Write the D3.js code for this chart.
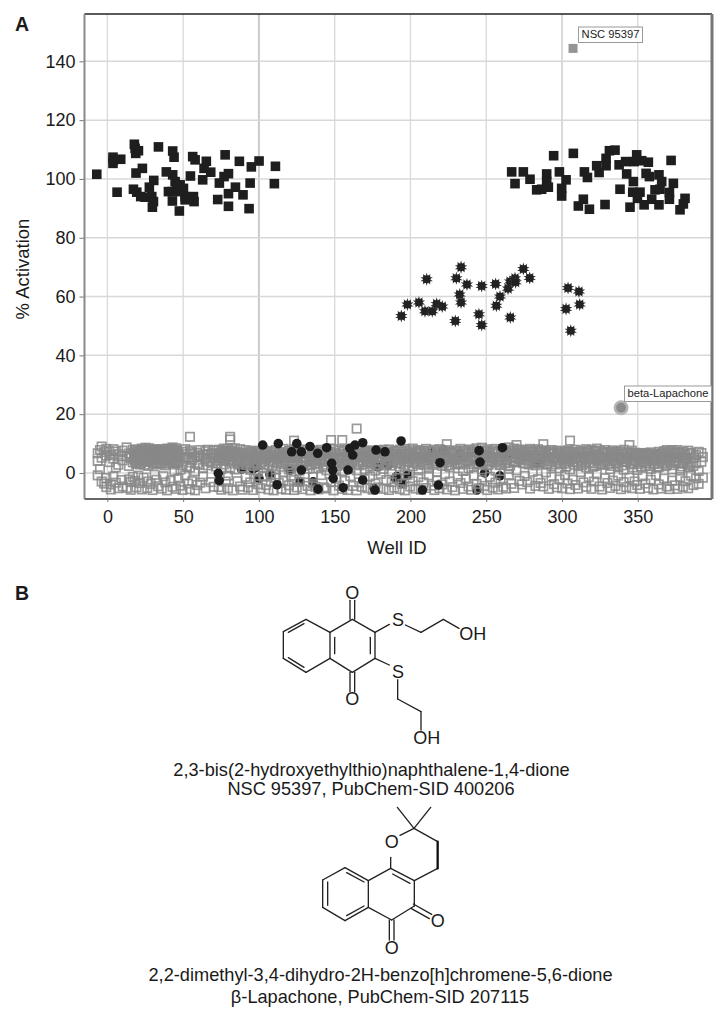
<!DOCTYPE html>
<html lang="en">
<head>
<meta charset="UTF-8">
<title>Well activation screen</title>
<script src="https://d3js.org/d3.v7.min.js"></script>
<style>
  body { margin: 0; background: #fff; }
  text { font-family: "Liberation Sans", Arial, sans-serif; fill: #1a1a1a; }
</style>
</head>
<body>
<script>
// tick labels
const xTicks = [0, 50, 100, 150, 200, 250, 300, 350];
const yTicks = [0, 20, 40, 60, 80, 100, 120, 140];

// high controls, filled squares [well, % activation]
const highControls = [
  [-7,101.6],[3.7,107.4],[3.7,105.3],[4,106.5],[8.8,106.7],[6.4,95.5],[17.8,111.8],[18.3,110.4],[20.5,109.6],[18.7,108.7],
  [18.9,102],[23.1,103.6],[17.2,96.5],[19.4,95.5],[22,94],[24.9,93.8],[29.3,94],[30.4,92.3],[29.7,90.4],[27.7,97.2],
  [30.6,99.5],[33.7,110.9],[43.1,109.5],[44,107.4],[56.3,107.6],[57.9,106.5],[65.3,106],[63.8,103.6],[68.2,102.3],[54.8,101],
  [62.9,99.7],[38.9,102.4],[43.1,101.4],[44.7,99.1],[48,98],[50.2,96.8],[40.3,95.7],[42.9,95.7],[42.9,92.5],[47.5,89.1],
  [51.3,94],[51.3,92.9],[56.8,94],[57.2,92.3],[53.5,93.4],[49.1,95.7],[45.8,97.4],[77.7,108.2],[87.1,106],[95,104.1],
  [100.1,106.1],[110.9,104.3],[110.2,98.4],[94.2,98.6],[79.9,101.8],[77,100.8],[73.9,98.6],[84.5,97.2],[79.9,95],[89.5,94.6],
  [72.8,93],[79.9,90.7],[93.5,89.9],
  [266.8,102.4],[274.5,102.4],[269,98.4],[278.9,99.9],[283.3,96.3],[286.6,96.5],[289.9,101.7],[289.9,99.1],[291,97.2],[294.5,107.9],
  [298.3,102.4],[302.7,99.7],[299.8,96.8],[299.8,94.2],[307.5,108.7],[314.8,102.4],[316.8,100.5],[314.1,93.1],[310.8,90.8],[318.1,89.7],
  [328.4,91.3],[322.9,104.5],[324.5,102.2],[329.1,104.5],[329.1,107],[331.3,109.6],[335,109.8],[337.7,104.8],[342,105.9],[342.7,101.7],
  [347.1,99.1],[349.3,108.2],[347.6,105.9],[352.6,106.2],[357,105.7],[355.5,101.9],[357.7,100.8],[338.3,96.5],[346.7,95.5],[351.5,95.5],
  [349.8,93.4],[344.9,90.4],[354.2,91.2],[359.2,93.1],[364,91.2],[361.4,96.3],[364.7,96.5],[364,101.4],[365.8,99.1],[370.9,95.4],
  [370.9,93.1],[373.5,98.5],[372,106.3],[381.2,93.4],[380.1,91.5],[377.9,89.5]
];

// mid controls, star markers [well, % activation]
const midControls = [
  [194,53.4],[198,57.3],[205.6,58],[209.6,55],[214.4,55],[210.7,65.9],[217.3,57.5],[221,56.6],[229.6,51.7],[233.4,70],
  [230.3,66.2],[237.3,64.1],[232.5,60.7],[233.4,58],[245.2,54],[247,50.3],[247,63.6],[256.2,64.3],[259.1,60],[256.7,56.9],
  [264.4,62.7],[265.7,65.1],[269,66.2],[269.4,64.9],[265.9,52.9],[274.5,69.4],[278.7,66.3],[304,62.9],[311.2,61.7],[311.7,57.3],
  [302.7,55.8],[305.8,48.4]
];

// black circles partly hidden by the compound squares
const lowControlsBehind = [
  [88.6,1.3],[96,1.3],[100,-1.8],[98.5,2],[107.3,-0.5],[120.5,1],[127,-3],[135.8,-3],[178.6,2.1],[190,-1.8],
  [191,-1.2],[198,-0.7],[197.5,5],[208.5,5],[214,7.2],[222,7.8],[232.7,6.7],[243.8,-5.8],[249,0],[259,-1],
  [264.2,6.1],[283.3,3.3],[285.5,4.4],[286.5,5.2],[194.7,-3.5],[185.2,2.7],[176,-5.2]
];
// black circles drawn over the squares
const lowControlsFront = [
  [73.2,-0.1],[73.8,-2.6],[102.5,9.5],[112.8,10],[112,-4],[125,10],[121.6,7.2],[128,7.2],[133.7,9],[128,1],
  [138.8,6.7],[139,-5.5],[144.7,8.6],[148,3.3],[148.7,1],[149,-1.8],[158.8,1],[155.6,-5],[160,8.4],[163.4,9.5],
  [168.5,10.3],[161.9,6.1],[168.5,-2.4],[176.6,-5.8],[177.3,7.8],[183.2,7.2],[193.8,10.9],[219.5,3.5],[218.4,-4.1],[207.9,-5.8],
  [245.3,7.6],[245.9,3.7],[260.7,8.6]
];

// screened compounds, open grey squares: [well, activation, activation, ...]
const compounds = [
  [-6.4,6.7,4.1,-0.8],[-4.9,7.8,1.3],[-3.8,9,5.2,-2.9],[-2.1,7.1,-3.6],[-0.7,8.2,5.9,-1.7,-4.8],[1.2,7.4,3.7],[2.3,6.1,-3.9,-5.6],[3.9,8.1,4.9,-1.2],
  [5.6,7.3,1.9,-3.3],[7.2,6.4,2.8,-5.2],[9.3,5.7,-2.4],[10.1,7.6,4.3,-4.6],[12.7,8.7,5.8,-5.1],[14.2,6.6,2.4,-2.2],[15.4,5.3,-3.1,-5.7],[16.8,7.9,3.6,-1.3],
  [18.1,7.3,5.6,4.2,-2.7],[19.2,6.1,3.4,-4.9],[20.4,7.9,5.1,-0.9],[21.5,7.2,4.6,2.9,-3.4],[22.7,8.3,6.4,-5.6],[23.9,7.5,5.3,3.8,-1.6],[25.2,8.6,6.9,4.3],[26.3,7.7,5.8,-2.9,-5.1],
  [27.4,8.4,6.1,3.9],[28.6,7.2,5.4,-3.7],[29.8,7.9,6.6,4.7,-5.8],[31.1,7.4,5.2,3.4,-0.6],[32.3,8.1,6.3,-2.3],[33.4,7.6,4.9,-4.5],[34.6,7.8,6.5,3.7],[35.9,7.1,5.7,4.4,-5.3],
  [37.1,8,6.2,-1.1],[38.3,7.5,4.8,3.2,-3.2],[39.4,8.3,5.9,-5.9],[40.6,7.7,6.4,4.2],[41.8,8.2,5.3,-2.6],[43,8.7,6.8,3.6,-4.7],[44.2,7.9,5.5,0.7],[45.3,8.4,6.1,4,-5.4],
  [46.7,6.8,3.3,-1.9],[48.2,5.6,1.2,-4.3],[49.6,7.2,2.7,-5.8],[51.3,8.1,4.8,-0.8],[53.2,5.3,-3.6],[54.5,12.3,7.7,1.8,-5.5],[56.1,6.6,4.4,-2.8],[57.8,5.4,0.6,-5.9],
  [59.3,6.9,3.1,-4.1],[61.2,7.8,5.3,-3.3],[63.1,6.3,1.7,-1.2],[64.8,7.4,4.9,-5.2],[66.4,7.9,2.6],[68.1,6.5,3.9,-3.1],[70.2,7.7,5.2,-4.7],[71.6,6.4,2.2],
  [73.4,7.9,4.3,-4.8],[75.2,7.1,5.6,1.3,-5.7],[76.8,8.3,6.2,2.9],[78.1,7.6,5.1,-2.9],[79.6,8.2,6.7,-0.9,-5.2],[81,12.3,11.4,6.9,1.7],[82.7,7.7,4.1,-5.9],[84.1,8.4,5.6,1.2],
  [85.9,7.2,3.7,-2.8],[87.6,8.1,4.9,-4.6],[89.3,6.7,1.8,-5.7],[91.2,7.8,3.2,-1.3],[92.8,6.9,5.1,-4.9],[94.3,7.4,1.1,-3.2],[96.2,6.2,2.4,-5.8],[97.9,7.6,4.6,-1.9],
  [99.4,6.6,0.4,-3.8],[101.1,5.9,3.3,-5.2],[103,7.7,1.7,-1],[104.6,6.8,4.8,-4.1],[106.3,5.4,2.6,-5.6],[107.9,7.3,-0.7,-3],[109.7,6.3,3.6,-5.9],[111.2,7.8,1.3,-1.7],
  [113.1,6.6,4.7,-3.4],[114.8,5.7,2.1,-5.4],[116.2,8.2,0.2,-2.6],[117.9,6.9,3.8,-5.7],[119.8,7.6,1.2,-4.2],[121.3,5.2,2.9,-0.9],[123.2,11,7.9,-2.4,-5.8],[125,6.7,3.4,-4.9],
  [126.8,7.7,0.8,-3],[128.7,4.9,2.3,-5.5],[130.2,8,3.9,-0.4],[132.1,6.8,1.4,-4.4],[134,5.6,2.7,-5.9],[135.7,7.5,-1.3,-3.6],[137.3,6.2,3.2,-4.7],[139.2,7.4,1.6,-5.6],
  [141.1,7.9,4.4,-0.7],[142.9,6.4,2.1,-4.9],[144.6,7.6,0.9,-5.3],[147.6,11.2,6.5,2.6,-3.1],[149.2,8.1,4.7,-5.9],[150.9,6.9,1.2,-2],[152.8,7.7,3.4,-4.3],[155,11.2,5.2,0.7,-5.4],
  [156.7,7.8,2.9,-2.7],[158.4,6.6,4.1,-5.8],[160.3,7.9,1.6,-1.1],[162.1,7,5.3,-4.4],[164.5,15.1,7.6,0.9,-5.9],[166.2,6.2,2.6,-3.2],[168,7.9,5.4,-4.7],[169.8,7.2,1.3,-2.1],
  [171.6,7.7,3.7,-5.2],[173.3,6.4,2.2,-1.2],[175.1,7.5,4.9,-5.7],[176.9,6.8,0.8,-3.6],[178.7,7.8,2.7,-4.9],[180.4,7,5.1,-0.3],[182.2,7.9,1.4,-5.4],[184.1,6.3,3.1,-2.4],
  [185.8,8,4.6,-5.8],[187.6,7.1,0.6,-3.1],[189.3,7.6,5.2,-5],[191.2,6.5,3.4,-1.7],[192.9,7.9,2.1,-5.5],[194.6,7.2,4.7,-3.7],[196.3,8.2,1.1,-5.9],[198.1,6.7,3.8,-0.6],
  [199.8,7.7,5.6,-4.6],[201.5,8.3,2.3,-2.8],[203.4,7.1,4.2,-5.3],[205.2,7.8,0.9,-1.4],[206.9,6.6,5.3,-5.7],[208.7,7.5,2.8,-3.2],[210.3,8.2,4.4,-5.1],[212.2,7.6,1.5,-0.8],
  [214,7,5.1,-4.3],[215.8,7.9,3.3,-5.8],[217.5,6.8,0.4,-2.6],[219.2,8.1,4.8,-5.2],[221.1,7.4,2.4,-3.9],[222.8,7.8,5.7,-0.4],[224,9.8,3.7,-5.6],[225.9,7.2,1.9,-2.9],
  [227.7,6.9,4.5,-4.8],[229.4,7.7,2.9,-5.9],[231.2,6.6,5.2,-1.2],[233,8.2,3.1,-3.4],[234.7,7.5,0.7,-5.4],[236.5,7,4.2,-2],[238.3,8,1.6,-4.6],[240.1,7.3,5.4,-5.7],
  [241.8,7.8,2.2,-0.9],[243.6,8.4,4.6,-3.7],[245.3,7.4,3.2,-5.2],[247.2,8.6,1.2,-2.4],[248.9,7.5,5.9,-4.4],[250.7,8.1,2.6,-5.8],[252.4,7,3.9,-1.3],[254.3,7.7,5.1,-5],
  [256.1,8.2,0.8,-3.3],[257.8,7.1,4.3,-5.6],[259.5,7.6,2.7,-2.2],[261.3,8,5.6,-4.7],[263.1,7.3,3.4,-5.3],[264.9,8.7,1.4,-0.6],[266.6,7.6,5.2,-3.7],[268.4,8.3,3.6,-5.1],
  [270,9.5,6.4,0.9],[271.9,8,4.7,-2.7],[273.6,7.6,5.8,-3.9],[275.4,7.2,3.2,-1],[277.1,7.8,5.3,-3.1],[278.9,8.2,4.1,-5.3],[280.7,7.1,6.1,0.4],[282.5,7.7,2.6,-4.4],
  [284.2,8.1,5,-2.1],[285.9,7.2,3.7,-3.4],[287.7,9.8,6.2,-4.6],[289.4,7.6,3.1,0.2],[291.3,6.7,4.9,-5.4],[293.1,7.8,2.2,-1.3],[294.8,7.1,5.4,-3.8],[296.6,7.6,3.6,-4.9],
  [298.4,6.6,1.6,-2.2],[300.2,7.4,5.1,-5.2],[302,7,3.2,-0.7],[303.7,7.7,4.6,-3.6],[305.3,11,6.1,1.2,-5.5],[307.1,7.2,3.8,-2.3],[308.9,7.9,5.2,-4.1],[310.6,6.8,2.3,-5.3],
  [312.4,7.6,4.2,0.3],[314.2,7.1,5.7,-3.2],[316,8.1,1.9,-4.7],[317.7,7.5,3.6,-1.4],[319.4,7.8,5.1,-5.4],[321.2,7.2,2.4,-2.9],[323,8.3,4.7,-0.4],[324.8,7.6,3.2,-4.6],
  [326.5,6.9,5.4,-5.6],[328.3,7.8,2.8,-1.8],[330,7.2,4.3,-3.4],[331.8,6.7,1.3,-5.1],[333.6,7.7,5.6,-2.6],[335.3,7.1,3.4,-4.4],[337.1,6.5,2.2,-0.9],[338.9,7.4,4.9,-5.5],
  [340.7,7.9,1.1,-3.1],[342.4,6.8,3.7,-4.8],[344.5,9.5,5.8,-1.6],[346.1,7.6,2.9,-5.2],[347.9,6.9,4.2,-2.9],[349.7,6.2,1,-4.1],[351.4,6.7,3.6,-5.4],[353.2,5.9,4.8,-1.1],
  [355,6.8,2.3,-3.6],[356.8,6.2,5,-5.1],[358.6,7,1.4,-2.3],[360.3,5.6,3.2,-5.6],[362.1,6.4,4.6,-0.7],[363.9,7.2,2.1,-3.9],[365.6,6.7,3.8,-5.3],[367.4,7.4,5.2,-1.9],
  [369.2,7.8,2.7,-4.6],[370.9,6.6,4.4,-5.5],[372.7,7.7,1.2,-2.6],[374.5,7.1,3.6,-4.2],[376.2,7.8,5.3,-5.4],[378,6.8,0.8,-1.4],[379.8,7.3,3.2,-4.7],[381.5,6.3,4.9,-2.8],
  [383.3,7.6,1.9,-5.2],[385.1,6.9,3.7,-0.9],[386.7,5.2,2.4,-4.1],[388.5,6.1,3.3,-1.8],[390.2,7.2,0.7,-3.7],[392,6.8,3.8],[393,5.4,-1.6]
];

// second pass over the band, where the squares pile up into solid grey
const compoundsDense = [
  [17.6,6.8,4.8],[18.9,7.9,6.2,3.1],[20.9,6.7,4.1],[22.1,7.6,5.6,3.4],[23.3,6.9,4.4],[24.6,7.9,5.9,2.8],[25.8,6.3,4.9],[26.9,7.1,4.1,2.4],[28,7.9,6.8,4.8],[29.2,6.2,3.7],
  [30.4,7.7,5.7,2.9],[31.7,6.8,4.3],[32.8,7.4,5.1,3.2],[34,6.1,4.4],[35.2,8,6.9,3.1],[36.5,6.6,4.9],[37.7,7.4,5.3,2.6],[38.9,6.4,3.9],[40,7.5,5.2,4.6],[41.2,6.7,3.4],
  [42.4,7.4,5.8,4.1],[43.6,6.3,2.9],[44.9,7.2,4.6],[46,7.7,5.4,3.5],
  [52.4,6.4,2.3],[55.2,7.1,3.6],[60.3,5.9,2.7],[65.7,6.2,4],[69.3,6.9,3.4],[72.6,5.7,3.2],[74.3,6.3,5.1],[76,7.6,4.7],[77.5,6.9,4.2],[79,7.4,5.5],[80.3,6.1,3.9],[82,7.1,5.3],[83.4,6.5,3.2],
  [85.2,5.9,4.4],[86.8,6.8,2.9],[88.4,5.7,3.7],[90.2,6.4,4.2],[92,5.3,2.7],[93.6,6.2,3.9],[95.3,7.1,4.7],[97.1,5.5,3.4],[98.7,6.9,2.8],[100.3,7.2,4.6],[102.1,5.1,3.8],[103.8,6.4,2.9],
  [105.5,7.4,5.7],[107.1,6.1,4.1],[108.8,5.3,2.6],[110.5,6.9,4.9],[112.1,5.8,3.3],[114,7.1,5.2],[115.5,6.2,3.7],[117.1,5.4,4.4],[118.9,6.6,2.7],[120.5,7.5,5.1],[122.3,6.3,3.9],[124.1,7.3,5.5],
  [125.9,5.8,4.3],[127.7,6.6,2.4],[129.5,7.2,5.3],[131.2,5.5,3.6],[133.1,6.9,4.6],[134.9,7.7,2.9],[136.5,5.2,4.1],[138.3,6.7,3.3],[140.2,5.9,4.8],[142,7.2,2.8],[143.7,5.6,3.9],[145.6,6.5,4.5],
  [147.3,7.3,5.4],[149.9,6,3.5],[151.8,5.1,2.4],[153.7,6.4,4.4],[155.6,7.4,3.1],[157.5,5.7,4.7],[159.3,6.9,2.7],[161.2,5.4,3.6],[163,7.4,4.5],[165,6.4,3.1],[166.9,5.2,4.3],[168.8,6.7,2.9],
  [170.7,5.8,3.7],[172.4,7.1,4.6],[174.2,5.5,3.2],[176,6.6,4.2],[177.8,5.1,2.6],[179.5,6.3,3.8],[181.3,7.4,5.4],[183.2,5.7,3.3],[185,6.8,4.4],[186.7,5.3,2.5],[188.5,6.5,3.9],[190.3,7.3,5.6],
  [192,5.9,4.3],[193.8,6.4,3.2],[195.5,5.5,2.8],[197.2,7.5,5.2],[199,6.2,3.9],[200.7,6.9,4.7],[202.5,5.3,3.4],[204.3,6.6,2.9],[206,7.4,4.8],[207.8,5.8,3.7],[209.5,6.8,5.3],[211.3,5.2,3.1],
  [213.1,7.2,4.5],[214.9,6.1,2.7],[216.7,5.4,3.9],[218.4,7.4,5.6],[220.2,6.3,4.2],[222,5.2,3.2],[223.7,7.1,4.9],[225.5,5.9,2.6],[227.2,6.5,3.7],[229,5.1,4.4],[230.8,7.3,3.2],[232.5,6.1,4.6],
  [234.3,5.6,2.9],[236,7.6,5.4],[237.8,6.4,3.8],[239.6,5.2,4.2],[241.3,6.8,3.1],[243.1,5.7,4.7],[244.8,7.1,2.8],[246.5,5.9,4.1],[248.3,6.7,3.4],[250,7.4,5.2],[251.8,6.1,2.9],[253.5,5.3,4.4],
  [255.3,7.2,3.6],[257,6.5,4.8],[258.8,5.4,2.7],[260.6,6.9,4.2],[262.3,7.6,3.3],[264.1,5.9,4.6],[265.8,6.6,2.5],[267.5,7.5,5.4],[269.2,6.8,3.9],[271,7.7,5.1],[272.7,6.3,4.3],[274.5,7,3.4],
  [276.2,5.9,4.6],[278,6.8,2.9],[279.8,7.4,5.5],[281.6,6.1,3.7],[283.4,5.3,4.2],[285.1,6.9,3.2],[286.8,7.6,5.2],[288.6,6.2,4.1],[290.3,5.5,2.8],[292.1,7.1,3.9],[293.9,6.4,5],[295.7,5.1,2.9],
  [297.5,6.7,4.3],[299.3,5.8,3.1],[301.1,6.5,4.6],[302.9,5.3,2.2],[304.6,7.3,3.9],[306.4,6,4.7],[308.1,6.7,2.8],[309.8,5.4,3.6],[311.5,7.1,4.9],[313.3,6.2,2.7],[315.1,5.1,3.7],[316.9,6.9,4.5],
  [318.6,5.8,3.2],[320.3,6.5,2.1],[322.1,7.5,5.2],[323.9,6.1,4.1],[325.7,5.4,2.9],[327.4,7,3.8],[329.2,6.3,4.8],[330.9,5.2,3.1],[332.7,6.7,2.4],[334.4,5.9,4.2],[336.2,7.2,3.2],[338,5.5,4.6],
  [339.8,6.4,2.6],[341.6,5.1,3.8],[343.3,7.1,4.7],[345.2,6.2,3.3],[347,5.4,1.9],[348.8,6.7,4.1],[350.6,5.6,3.1],[352.3,6.3,2.2],[354.1,5.2,4],[355.9,6.5,3.3],[357.7,5.7,2.4],[359.5,6.3,4.2],
  [361.2,5.3,3],[363,6.1,1.8],[364.8,5.5,4.3],[366.5,6.6,3.2],[368.3,5.8,2.3],[370.1,7.1,4.9],[371.8,5.5,3.4],[373.6,6.4,2.7],[375.4,5.2,4.1],[377.1,6.9,3.3],[378.9,5.6,2.2],[380.7,6.4,4.3],
  [382.4,5.1,3.1],[384.2,6.7,2.6]
];

// the two labelled hits
const hitNSC = [307.3, 144.4];
const hitLapachone = [339, 22.2];

// chemical structures, traced at 3x and drawn at scale 1/3
const molA = {
  at: [260, 575],
  bonds: [
    [70,170,138,133],[138,133,210,172],[210,172,210,250],[210,250,138,292],[138,292,70,250],[70,250,70,170],
    [85,172,132,146],[85,248,132,277],[210,172,277,133],[277,133,345,172],[345,172,345,250],[345,250,277,292],[277,292,210,250],
    [224,187,224,236],[331,187,331,236],[270,133,270,76],[284,133,284,76],[270,292,270,350],[284,292,284,350],
    [345,172,388,148],[436,150,483,172],[483,172,550,133],[550,133,597,160],
    [345,250,388,270],[413,314,413,372],[413,372,483,410],[483,410,483,465]
  ],
  labels: [[277,55,"O"],[277,373,"O"],[414,134,"S"],[414,291,"S"],[638,177,"OH"],[500,490,"OH"]]
};
const molB = {
  at: [300, 800],
  bonds: [
    [68,240,135,203],[135,203,205,242],[205,242,205,322],[205,322,135,362],[135,362,68,322],[68,322,68,240],
    [83,246,83,316],[140,218,192,246],[140,347,192,318],
    [205,242,272,205],[272,205,343,242],[343,242,343,318],[343,318,275,360],[275,360,205,322],[278,222,330,250],
    [268,360,268,420],[282,360,282,420],[340,312,395,343],[333,325,388,356],
    [272,205,272,172],[300,106,342,85],[342,85,413,125],[413,205,343,242],[342,85,292,22],[342,85,392,22]
  ],
  bold: [[413,125,413,205]],
  labels: [[275,127,"O"],[275,443,"O"],[413,362,"O"]]
};

const captions = [
  [371.5, 776, "2,3-bis(2-hydroxyethylthio)naphthalene-1,4-dione"],
  [371, 795, "NSC 95397, PubChem-SID 400206"],
  [380.5, 981, "2,2-dimethyl-3,4-dihydro-2H-benzo[h]chromene-5,6-dione"],
  [380, 1003, "\u03b2-Lapachone, PubChem-SID 207115"]
];

const svg = d3.select("body").append("svg")
  .attr("width", 725)
  .attr("height", 1022);

const left = 84.5, right = 712, top_ = 14, bottom = 499;

let x = d3.scaleLinear().domain([-15.1, 399]).range([left, right]);
let y = d3.scaleLinear().domain([-8.85, 156.1]).range([bottom, top_]);

// grid
svg.append("g").selectAll("line").data(xTicks).enter().append("line")
  .attr("x1", d => x(d)).attr("x2", d => x(d))
  .attr("y1", top_).attr("y2", bottom)
  .attr("stroke", d => d === 100 || d === 300 ? "#c9cbd0" : "#d9dbde")
  .attr("stroke-width", d => d === 100 ? 2 : 1.4);
svg.append("g").selectAll("line").data(yTicks).enter().append("line")
  .attr("x1", left).attr("x2", right)
  .attr("y1", d => y(d)).attr("y2", d => y(d))
  .attr("stroke", "#d6d8da")
  .attr("stroke-width", 1.5);

// axes
let xAxis = svg.append("g").attr("transform", `translate(0,${bottom})`)
  .call(d3.axisBottom(x).tickValues(xTicks).tickSize(3).tickPadding(8).tickFormat(d3.format("d")));
let yAxis = svg.append("g").attr("transform", `translate(${left},0)`)
  .call(d3.axisLeft(y).tickValues(yTicks).tickSize(5).tickPadding(4).tickFormat(d3.format("d")));
[xAxis, yAxis].forEach(a => {
  a.select(".domain").remove();
  a.selectAll("text").attr("font-size", 18).attr("fill", "#1a1a1a");
  a.selectAll("line").attr("stroke", "#777");
});

// frame
let frame = [
  [left, top_, right, top_, "#222", 1.5],
  [left, top_, left, bottom, "#8a8a8a", 2],
  [left, bottom, right, bottom, "#666", 2],
  [right, top_, right, bottom, "#777", 3]
];
svg.append("g").selectAll("line").data(frame).enter().append("line")
  .attr("x1", d => d[0]).attr("y1", d => d[1])
  .attr("x2", d => d[2]).attr("y2", d => d[3])
  .attr("stroke", d => d[4]).attr("stroke-width", d => d[5]);

// markers
function circles(data) {
  svg.append("g").selectAll("circle").data(data).enter().append("circle")
    .attr("cx", d => x(d[0])).attr("cy", d => y(d[1]))
    .attr("r", 4.8).attr("fill", "#1c1c1c");
}
circles(lowControlsBehind);

let greyPoints = compounds.concat(compoundsDense).flatMap(c => c.slice(1).map(v => [c[0], v]));
svg.append("g").selectAll("rect").data(greyPoints).enter().append("rect")
  .attr("x", d => x(d[0]) - 4.2).attr("y", d => y(d[1]) - 4.2)
  .attr("width", 8.4).attr("height", 8.4)
  .attr("fill", "none").attr("stroke", "#888").attr("stroke-opacity", 0.85).attr("stroke-width", 1.7);

circles(lowControlsFront);

svg.append("g").selectAll("rect").data(highControls).enter().append("rect")
  .attr("x", d => x(d[0]) - 4.8).attr("y", d => y(d[1]) - 4.8)
  .attr("width", 9.6).attr("height", 9.6)
  .attr("fill", "#1e1e1e");

// star marker, square body with short spikes
let star = d3.symbol().type(d3.symbolStar).size(48);
let midG = svg.append("g").selectAll("g").data(midControls).enter().append("g")
  .attr("transform", d => `translate(${x(d[0])},${y(d[1])})`);
midG.append("path").attr("d", star).attr("fill", "#333");
midG.append("path").attr("d", star).attr("fill", "#333").attr("transform", "rotate(36)");
midG.append("rect").attr("x", -3.6).attr("y", -3.6).attr("width", 7.2).attr("height", 7.2).attr("fill", "#222");

// hits
svg.append("rect")
  .attr("x", x(hitNSC[0]) - 4.5).attr("y", y(hitNSC[1]) - 4.5)
  .attr("width", 9).attr("height", 9).attr("fill", "#959595");
svg.append("circle")
  .attr("cx", x(hitLapachone[0])).attr("cy", y(hitLapachone[1]))
  .attr("r", 6.2).attr("fill", "#8b8b8b")
  .attr("stroke", "#b5b5b5").attr("stroke-width", 2.6);

function tag(bx, by, bw, bh, label) {
  svg.append("rect").attr("x", bx).attr("y", by).attr("width", bw).attr("height", bh)
    .attr("fill", "#fff").attr("stroke", "#9a9a9a").attr("stroke-width", 1);
  svg.append("text").attr("x", bx + bw / 2).attr("y", by + bh - 4.2)
    .attr("text-anchor", "middle").attr("font-size", 11.2).text(label);
}
tag(578.5, 27, 64, 15.5, "NSC 95397");
tag(624.5, 386, 87, 15.5, "beta-Lapachone");

// axis titles and panel letters
svg.append("text").attr("x", 397).attr("y", 554)
  .attr("text-anchor", "middle").attr("font-size", 18.5).text("Well ID");
svg.append("text").attr("transform", "translate(29,269) rotate(-90)")
  .attr("text-anchor", "middle").attr("font-size", 18.5).text("% Activation");
svg.append("text").attr("x", 15).attr("y", 31).attr("font-size", 19.5).attr("font-weight", "bold").text("A");
svg.append("text").attr("x", 15).attr("y", 600).attr("font-size", 19.5).attr("font-weight", "bold").text("B");

// structures
function drawMol(m) {
  let g = svg.append("g").attr("transform", `translate(${m.at[0]},${m.at[1]}) scale(${1 / 3})`);
  g.selectAll("line.b").data(m.bonds).enter().append("line")
    .attr("x1", d => d[0]).attr("y1", d => d[1]).attr("x2", d => d[2]).attr("y2", d => d[3])
    .attr("stroke", "#222").attr("stroke-width", 4).attr("stroke-linecap", "round");
  g.selectAll("line.w").data(m.bold || []).enter().append("line")
    .attr("x1", d => d[0]).attr("y1", d => d[1]).attr("x2", d => d[2]).attr("y2", d => d[3])
    .attr("stroke", "#111").attr("stroke-width", 7).attr("stroke-linecap", "round");
  g.selectAll("text").data(m.labels).enter().append("text")
    .attr("x", d => d[0]).attr("y", d => d[1] + 18)
    .attr("text-anchor", "middle").attr("font-size", 54).text(d => d[2]);
}
drawMol(molA);
drawMol(molB);

svg.append("g").selectAll("text").data(captions).enter().append("text")
  .attr("x", d => d[0]).attr("y", d => d[1])
  .attr("text-anchor", "middle").attr("font-size", 18.2).text(d => d[2]);
</script>
</body>
</html>
